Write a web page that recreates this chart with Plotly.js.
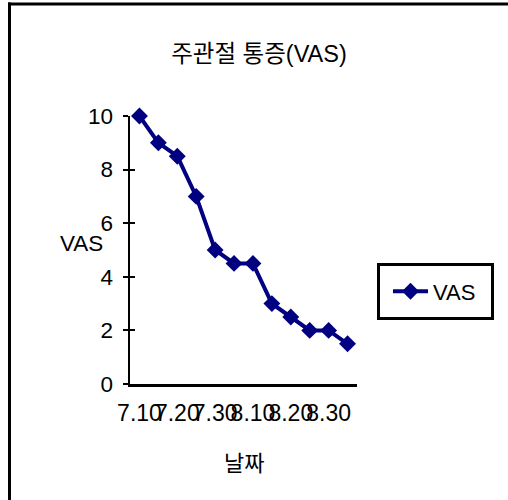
<!DOCTYPE html>
<html>
<head>
<meta charset="utf-8">
<script src="https://cdn.plot.ly/plotly-3.0.1.min.js"></script>
<style>html,body{margin:0;padding:0;background:#fff;}#chart{width:508px;height:500px;}</style>
</head>
<body>
<div id="chart"></div>
<script>
// ---- data ----
var chartTitle = "주관절 통증(VAS)";
var seriesName = "VAS";
var yTitle = "VAS";
var xTitle = "날짜";
var vasValues = [10, 9, 8.5, 7, 5, 4.5, 4.5, 3, 2.5, 2, 2, 1.5];
var xLabelPositions = [0, 2, 4, 6, 8, 10];
var xLabels = ["7.10", "7.20", "7.30", "8.10", "8.20", "8.30"];
var yTicks = [0, 2, 4, 6, 8, 10];

var pointIndex = vasValues.map(function (v, i) { return i; });

var font = "Liberation Sans, Arial, Noto Sans CJK KR, sans-serif";

// plot area in pixels: x 130..357, y 116..384
var L = 130, R = 357, T = 116, B = 384, W = 508, H = 500;
function px(x) { return (x - L) / (R - L); }
function py(y) { return (B - y) / (B - T); }

var trace = {
  x: pointIndex,
  y: vasValues,
  type: "scatter",
  mode: "lines+markers",
  name: seriesName,
  line: { color: "#000080", width: 4 },
  marker: { symbol: "diamond", size: 13, color: "#000080", line: { width: 0 } },
  cliponaxis: false
};
// same data on a twin axis, drawn as nothing, only so the inner half of the crossing ticks shows
var twin = {
  x: pointIndex, y: vasValues, type: "scatter", mode: "none",
  yaxis: "y2", showlegend: false, hoverinfo: "skip"
};

var layout = {
  width: W, height: H,
  margin: { l: L, r: W - R, t: T, b: H - B, pad: 0 },
  paper_bgcolor: "#ffffff",
  plot_bgcolor: "#ffffff",
  font: { family: font, size: 22, color: "#000000" },
  title: {
    text: chartTitle,
    font: { family: font, size: 23.5, color: "#000000" },
    x: 259 / W, xref: "container", xanchor: "center",
    y: 1 - 54 / H, yref: "container", yanchor: "middle"
  },
  showlegend: true,
  legend: {
    x: px(388), y: py(291.5), xanchor: "left", yanchor: "middle",
    borderwidth: 0, bgcolor: "rgba(0,0,0,0)",
    font: { family: font, size: 22, color: "#000000" },
    itemwidth: 35
  },
  xaxis: {
    range: [-0.5, 11.5],
    showgrid: false, zeroline: false,
    showline: true, linecolor: "#000000", linewidth: 2.5,
    ticks: "",
    tickmode: "array", tickvals: xLabelPositions, ticktext: xLabels,
    tickangle: 0,
    tickfont: { family: font, size: 23, color: "#000000" },
    ticklabelstandoff: 7,
    fixedrange: true
  },
  yaxis: {
    range: [0, 10],
    showgrid: false, zeroline: false,
    showline: true, linecolor: "#000000", linewidth: 2.5,
    ticks: "outside", ticklen: 5, tickwidth: 2, tickcolor: "#000000",
    tickmode: "array", tickvals: yTicks,
    tickfont: { family: font, size: 22.5, color: "#000000" },
    ticklabelstandoff: 5,
    fixedrange: true
  },
  yaxis2: {
    overlaying: "y", range: [0, 10], side: "left",
    showgrid: false, zeroline: false, showline: false,
    ticks: "inside", ticklen: 5, tickwidth: 2, tickcolor: "#000000",
    tickmode: "array", tickvals: yTicks, showticklabels: false,
    fixedrange: true
  },
  annotations: [
    { text: yTitle, xref: "paper", yref: "paper", x: px(81), y: py(243),
      xanchor: "center", yanchor: "middle", showarrow: false,
      font: { family: font, size: 22.5, color: "#000000" } },
    { text: xTitle, xref: "paper", yref: "paper", x: px(243.5), y: py(463),
      xanchor: "center", yanchor: "middle", showarrow: false,
      font: { family: font, size: 22, color: "#000000" } }
  ],
  shapes: [
    { type: "line", xref: "paper", yref: "paper", x0: px(9.5), x1: px(9.5), y0: py(2.5), y1: py(520),
      line: { color: "#000000", width: 3 } },
    { type: "line", xref: "paper", yref: "paper", x0: px(8), x1: px(530), y0: py(4), y1: py(4),
      line: { color: "#000000", width: 3 } },
    // legend frame
    { type: "rect", xref: "paper", yref: "paper", x0: px(378.5), x1: px(492.5), y0: py(264.5), y1: py(318.5),
      line: { color: "#000000", width: 3 }, fillcolor: "rgba(0,0,0,0)" }
  ]
};

Plotly.newPlot("chart", [trace, twin], layout, { displayModeBar: false, staticPlot: true });
</script>
</body>
</html>
